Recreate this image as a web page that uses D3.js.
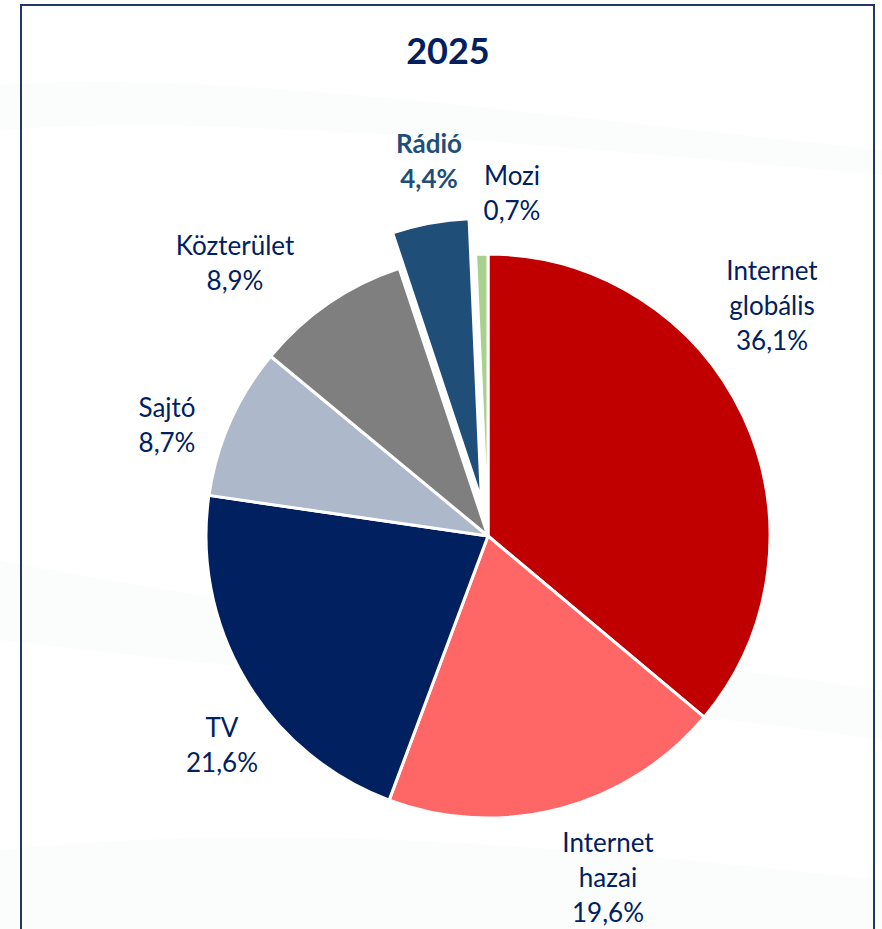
<!DOCTYPE html>
<html>
<head>
<meta charset="utf-8">
<script src="https://cdn.jsdelivr.net/npm/d3@7"></script>
<style>
  html, body { margin: 0; padding: 0; background: #ffffff; }
  svg { display: block; }
</style>
</head>
<body>
<svg id="chart" width="882" height="929"></svg>
<script>
// Media spending shares, 2025 (%)
const title = "2025";
const categories = ["Internet globális", "Internet hazai", "TV", "Sajtó", "Közterület", "Rádió", "Mozi"];
const shares = [36.1, 19.6, 21.6, 8.7, 8.9, 4.4, 0.7];
const sliceColors = ["#C00000", "#FF6666", "#002060", "#ADB9CA", "#7F7F7F", "#1F4E79", "#A9D18E"];
const highlighted = "Rádió";

// Label layout: anchor (x centre, first baseline) relative to the pie centre
const labelAnchors = [
  [284, -256], [120, 316], [-266, 201], [-321, -119], [-253, -281], [-59, -383], [24, -351]
];

const W = 882, H = 929;
const cx = 488, cy = 536, radius = 282, explode = 36;
const fontFamily = "Lato, 'Open Sans', 'DejaVu Sans', sans-serif";
const navy = "#002060";

const svg = d3.select("#chart");

// soft background swooshes
const bg = svg.append("g");
const swooshes = [
  "M0,85 C200,70 500,110 882,150 L882,175 C500,140 200,115 0,130 Z",
  "M0,560 C250,610 600,650 882,690 L882,740 C600,700 250,670 0,640 Z",
  "M0,850 C300,820 600,850 882,880 L882,929 L0,929 Z"
];
bg.selectAll("path").data(swooshes).join("path")
  .attr("d", d => d)
  .attr("fill", "#eef0f3")
  .attr("opacity", 0.22);

// frame
svg.append("path")
  .attr("d", `M21,${H + 2} L21,5 L874,5 L874,${H + 2}`)
  .attr("fill", "none")
  .attr("stroke", "#1F3864")
  .attr("stroke-width", 2);

// title
svg.append("text")
  .attr("x", 448).attr("y", 64)
  .attr("text-anchor", "middle")
  .attr("font-family", fontFamily)
  .attr("font-weight", "bold")
  .attr("font-size", 36)
  .attr("fill", navy)
  .text(title);

const data = categories.map((c, i) => ({ name: c, value: shares[i], color: sliceColors[i], anchor: labelAnchors[i] }));

const pie = d3.pie().sort(null).value(d => d.value);
const arc = d3.arc().innerRadius(0).outerRadius(radius);
const arcs = pie(data);

const g = svg.append("g").attr("transform", `translate(${cx},${cy})`);

g.selectAll("path.slice").data(arcs).join("path")
  .attr("class", "slice")
  .attr("d", arc)
  .attr("fill", d => d.data.color)
  .attr("stroke", "#ffffff")
  .attr("stroke-width", 3)
  .attr("stroke-linejoin", "round")
  .attr("transform", d => {
    if (d.data.name !== highlighted) return null;
    const mid = (d.startAngle + d.endAngle) / 2;
    return `translate(${Math.sin(mid) * explode},${-Math.cos(mid) * explode})`;
  });

const fmt = v => d3.format(".1f")(v).replace(".", ",") + "%";

const labels = g.selectAll("text.lbl").data(arcs).join("text")
  .attr("class", "lbl")
  .attr("text-anchor", "middle")
  .attr("font-family", fontFamily)
  .attr("font-size", 26)
  .attr("font-weight", d => d.data.name === highlighted ? "bold" : "normal")
  .attr("fill", d => d.data.name === highlighted ? "#1F4E79" : navy);

labels.each(function(d) {
  const lines = d.data.name.split(" ").concat([fmt(d.data.value)]);
  const t = d3.select(this);
  lines.forEach((ln, i) => {
    t.append("tspan")
      .attr("x", d.data.anchor[0])
      .attr("y", d.data.anchor[1] + i * 35)
      .text(ln);
  });
});
</script>
</body>
</html>
